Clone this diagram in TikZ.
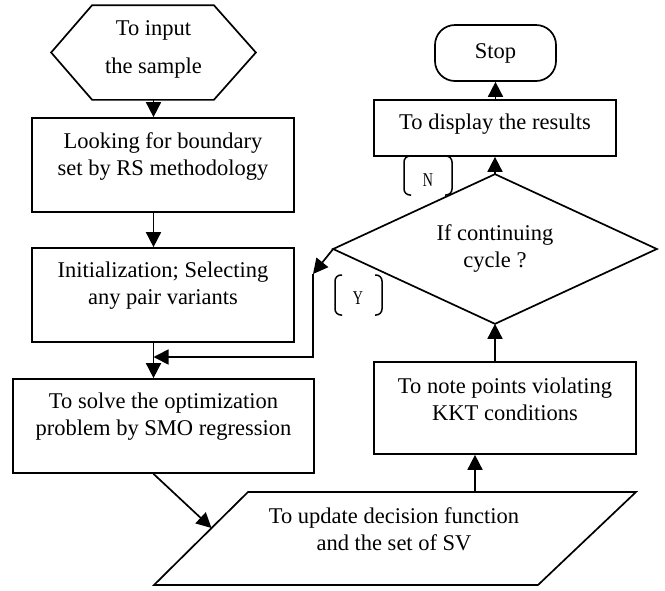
\documentclass[tikz,border=0pt]{standalone}
\usepackage{fontspec}
\setmainfont{Liberation Serif}
\usetikzlibrary{arrows.meta}
\begin{document}
\begin{tikzpicture}[x=1pt,y=-1pt,
  line width=1.7pt,
  box/.style={draw, rectangle, inner sep=0pt},
  hidden/.style={inner sep=0pt},
  txt/.style={align=center, font=\fontsize{22.5}{27}\selectfont, inner sep=0pt},
  arr/.style={-{Triangle[length=15pt,width=15pt]}},
  brk/.style={line width=1.5pt, rounded corners=6pt},
  lab/.style={font=\fontsize{19.5}{20}\selectfont, xscale=0.72, inner sep=0pt}]
\useasboundingbox (0,0) rectangle (665,590);

% input hexagon
\node[hidden, minimum width=203pt, minimum height=93pt] (inp) at (153.5,52.5) {};
\draw (inp.west) -- ([xshift=41pt]inp.north west) -- ([xshift=-42pt]inp.north east)
  -- (inp.east) -- ([xshift=-42pt]inp.south east) -- ([xshift=41pt]inp.south west) -- cycle;
\node[txt, font=\fontsize{22.5}{38}\selectfont] (tinp) at (153.5,49) {To input\\the sample};

% left column boxes
\node[box, minimum width=262pt, minimum height=94pt] (b1) at (163,165) {};
\node[txt] (t1) at (163,156.5) {Looking for boundary\\set by RS methodology};
\node[box, minimum width=262pt, minimum height=94pt] (b2) at (163,295) {};
\node[txt] (t2) at (163,285.5) {Initialization; Selecting\\any pair variants};
\node[box, minimum width=301pt, minimum height=94pt] (b3) at (163.5,426) {};
\node[txt] (t3) at (163.5,416.5) {To solve the optimization\\problem by SMO regression};

% parallelogram
\draw (248,492) -- (636,492) -- (538,585) -- (154,585) -- cycle;
\node[txt] (upd) at (394,529) {To update decision function\\and the set of SV};
\coordinate (parin) at (211.5,528);
\coordinate (parout) at (475,492);

% right column
\node[box, minimum width=262pt, minimum height=92pt] (note) at (505,408) {};
\node[txt] (tn) at (505,399) {To note points violating\\KKT conditions};
\node[hidden, minimum width=322pt, minimum height=148pt] (dec) at (495,249) {};
\draw (dec.north) -- (dec.east) -- (dec.south) -- (dec.west) -- cycle;
\node[txt] (td) at (495,249) {If continuing\\cycle ?};
\node[box, minimum width=242pt, minimum height=56pt] (disp) at (495,128) {};
\node[txt] (tdisp) at (495,124) {To display the results};
\node[box, rounded corners=20pt, minimum width=121pt, minimum height=56pt, font=\fontsize{22.5}{27}\selectfont] (stop) at (495.5,53) {Stop};

% connectors
\draw[arr] (inp.south) -- (inp.south |- b1.north);
\draw[arr] (b1.south -| inp.south) -- (b2.north -| inp.south);
\draw[arr] (b2.south -| inp.south) -- (b3.north -| inp.south);
\draw[arr] (b3.south -| inp.south) -- (parin);
\draw[arr] (parout) -- (parout |- note.south);
\draw[arr] (note.north -| dec.south) -- (dec.south);
\draw[arr] (dec.north) -- (dec.north |- disp.south);
\draw[arr] (disp.north -| stop.south) -- (stop.south);

% Y loop
\coordinate (yk) at (313,274);
\coordinate (mj) at (153.5,357);
\draw[arr] (dec.west) -- (yk);
\draw[arr] (yk) -- (yk |- mj) -- (mj);

% labels
\node[lab] (nl) at (428,180) {N};
\draw[brk] (411,156) -- (404,156) -- (404,195) -- (411,195);
\draw[brk] (445,156) -- (452,156) -- (452,195) -- (445,195);
\node[lab] (yl) at (358,298.5) {Y};
\draw[brk] (342,275) -- (335,275) -- (335,315) -- (342,315);
\draw[brk] (375,275) -- (382,275) -- (382,315) -- (375,315);
\end{tikzpicture}
\end{document}
